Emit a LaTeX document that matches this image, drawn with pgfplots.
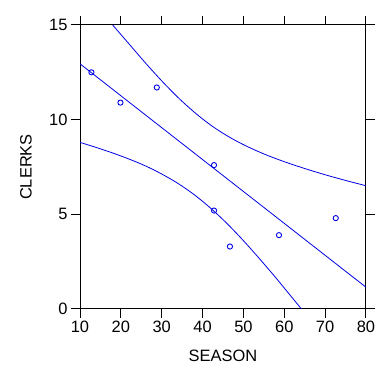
\documentclass[border=0pt]{standalone}
\usepackage{fontspec}
\setmainfont{Liberation Sans}
\usepackage{pgfplots}
\pgfplotsset{compat=1.18}
\definecolor{lineblue}{RGB}{0,0,230}
\begin{document}
\begin{tikzpicture}
\path[use as bounding box, fill=white] (0,0) rectangle (377bp,384bp);
\begin{axis}[
  at={(80bp,75bp)}, anchor=south west,
  scale only axis, width=286bp, height=284bp,
  xmin=10, xmax=80, ymin=0, ymax=15,
  xtick={10,20,...,80}, ytick={0,5,10,15},
  tick align=outside,
  major tick length=9bp,
  xticklabel pos=left, yticklabel pos=left,
  axis line style={line width=1bp},
  every tick/.style={black, line width=1bp},
  /pgf/number format/assume math mode=true,
  tick label style={font=\fontsize{16.5}{19}\selectfont},
  label style={font=\fontsize{16.5}{19}\selectfont},
  xlabel={SEASON}, ylabel={CLERKS},
  xlabel style={at={(axis description cs:0.5,-0.1655)}, anchor=center},
  ylabel style={at={(axis description cs:-0.189,0.5)}, anchor=center, rotate=0},
  clip=true,
]
\addplot[only marks, mark=o, mark size=2.6bp, color=lineblue, mark options={line width=0.9bp}] coordinates {
(12.8,12.5) (19.9,10.9) (28.8,11.7) (42.8,7.6) (42.8,5.2) (46.7,3.3) (58.7,3.9) (72.6,4.8)
};
\addplot[no marks, color=lineblue, line width=0.8bp] coordinates {(10,12.95) (80,1.15)};
\addplot[no marks, color=lineblue, line width=0.8bp, smooth] coordinates {
(18,15.0) (22,14.00) (26,13.00) (30,12.05) (34,11.17) (38,10.39) (42,9.71) (46,9.15) (50,8.68) (55,8.19) (60,7.78) (65,7.42) (70,7.09) (75,6.79) (80,6.51)
};
\addplot[no marks, color=lineblue, line width=0.8bp, smooth] coordinates {
(10,8.80) (14,8.53) (18,8.24) (22,7.92) (26,7.56) (30,7.13) (34,6.63) (38,6.03) (42,5.32) (46,4.51) (50,3.61) (54,2.64) (58,1.63) (62,0.58) (64.2,0.0)
};
\end{axis}
\end{tikzpicture}
\end{document}
